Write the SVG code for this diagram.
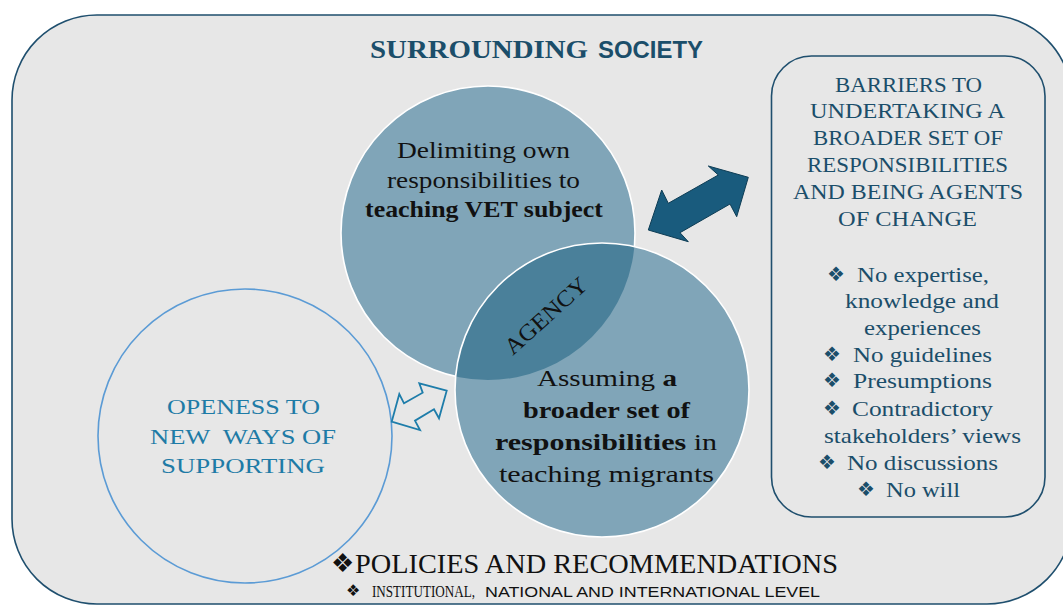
<svg xmlns="http://www.w3.org/2000/svg" width="1063" height="606" viewBox="0 0 1063 606">
  <style>
    .serif { font-family: "Liberation Serif", "Times New Roman", serif; }
    .sans { font-family: "Liberation Sans", Arial, sans-serif; }
    .sym { font-family: "DejaVu Sans", sans-serif; }
    .dark { fill: #1B4E6A; }
    .ink { fill: #111111; }
    .blue { fill: #1E7BA6; }
    .b { font-weight: bold; }
    .venn { fill: #80A5B8; }
    .rim { fill: none; stroke: #FFFFFF; stroke-width: 1.6; }
  </style>
  <defs>
    <clipPath id="clipUpper">
      <circle cx="488" cy="233" r="147"/>
    </clipPath>
  </defs>

  <!-- surrounding society frame -->
  <g id="society">
    <rect x="12" y="15" width="1060" height="589" rx="85" ry="85" fill="#E7E7E7" stroke="#1F4F6E" stroke-width="1.6"/>
    <text class="serif dark b" x="370" y="58" font-size="25" textLength="218" lengthAdjust="spacingAndGlyphs">SURROUNDING</text>
    <text class="sans dark b" x="598" y="58" font-size="23" textLength="105" lengthAdjust="spacingAndGlyphs">SOCIETY</text>
  </g>

  <!-- openness circle -->
  <g id="openness">
    <circle cx="245" cy="436" r="147" fill="none" stroke="#5B9BD5" stroke-width="1.6"/>
    <text class="serif blue" x="167" y="414" font-size="22" textLength="153" lengthAdjust="spacingAndGlyphs">OPENESS TO</text>
    <text class="serif blue" x="150" y="444" font-size="22" textLength="186" lengthAdjust="spacingAndGlyphs" xml:space="preserve">NEW  WAYS OF</text>
    <text class="serif blue" x="161" y="473" font-size="22" textLength="164" lengthAdjust="spacingAndGlyphs">SUPPORTING</text>
  </g>

  <!-- two overlapping responsibility circles -->
  <g id="delimiting">
    <circle class="venn" cx="488" cy="233" r="147"/>
    <circle class="rim" cx="488" cy="233" r="147"/>
  </g>
  <g id="assuming">
    <circle class="venn" cx="602" cy="390" r="147"/>
  </g>
  <g id="agency">
    <circle cx="602" cy="390" r="147" fill="#4A809A" clip-path="url(#clipUpper)"/>
    <circle class="rim" cx="602" cy="390" r="147"/>
    <g transform="translate(546,316) rotate(-42)">
      <text class="serif ink" x="-51.5" y="7.5" font-size="23" textLength="103" lengthAdjust="spacingAndGlyphs">AGENCY</text>
    </g>
  </g>

  <g id="delimiting-label">
    <text class="serif ink" x="397" y="158" font-size="23" textLength="173" lengthAdjust="spacingAndGlyphs">Delimiting own</text>
    <text class="serif ink" x="387" y="188" font-size="23" textLength="193" lengthAdjust="spacingAndGlyphs">responsibilities to</text>
    <text class="serif ink b" x="365" y="217" font-size="23" textLength="238" lengthAdjust="spacingAndGlyphs">teaching VET subject</text>
  </g>
  <g id="assuming-label">
    <text class="serif ink" x="537" y="386" font-size="23" textLength="140" lengthAdjust="spacingAndGlyphs">Assuming <tspan class="b">a</tspan></text>
    <text class="serif ink b" x="523" y="418" font-size="23" textLength="167" lengthAdjust="spacingAndGlyphs">broader set of</text>
    <text class="serif ink" x="495" y="450" font-size="23" textLength="222" lengthAdjust="spacingAndGlyphs"><tspan class="b">responsibilities</tspan> in</text>
    <text class="serif ink" x="499" y="482" font-size="23" textLength="215" lengthAdjust="spacingAndGlyphs">teaching migrants</text>
  </g>

  <!-- barriers box -->
  <g id="barriers">
    <rect x="771.5" y="56" width="273.5" height="461" rx="40" ry="40" fill="#E7E7E7" stroke="#1F4F6E" stroke-width="1.6"/>
    <g class="serif dark" font-size="22">
      <text x="835" y="92" textLength="147" lengthAdjust="spacingAndGlyphs">BARRIERS TO</text>
      <text x="810" y="118" textLength="195" lengthAdjust="spacingAndGlyphs">UNDERTAKING A</text>
      <text x="813" y="145" textLength="190" lengthAdjust="spacingAndGlyphs">BROADER SET OF</text>
      <text x="807" y="172" textLength="201" lengthAdjust="spacingAndGlyphs">RESPONSIBILITIES</text>
      <text x="793" y="199" textLength="230" lengthAdjust="spacingAndGlyphs">AND BEING AGENTS</text>
      <text x="838" y="226" textLength="139" lengthAdjust="spacingAndGlyphs">OF CHANGE</text>

      <text x="857" y="282" textLength="132" lengthAdjust="spacingAndGlyphs">No expertise,</text>
      <text x="845" y="308" textLength="154" lengthAdjust="spacingAndGlyphs">knowledge and</text>
      <text x="864" y="335" textLength="117" lengthAdjust="spacingAndGlyphs">experiences</text>
      <text x="853" y="362" textLength="139" lengthAdjust="spacingAndGlyphs">No guidelines</text>
      <text x="853" y="388" textLength="139" lengthAdjust="spacingAndGlyphs">Presumptions</text>
      <text x="852" y="416" textLength="141" lengthAdjust="spacingAndGlyphs">Contradictory</text>
      <text x="824" y="443" textLength="197" lengthAdjust="spacingAndGlyphs">stakeholders’ views</text>
      <text x="847" y="470" textLength="151" lengthAdjust="spacingAndGlyphs">No discussions</text>
      <text x="886" y="497" textLength="74" lengthAdjust="spacingAndGlyphs">No will</text>
    </g>
    <g class="sym dark" font-size="20">
      <text x="827" y="281">❖</text>
      <text x="823" y="361">❖</text>
      <text x="823" y="387">❖</text>
      <text x="823" y="415">❖</text>
      <text x="818" y="469">❖</text>
      <text x="857" y="496">❖</text>
    </g>
  </g>

  <!-- policies footer -->
  <g id="policies">
    <text class="sym ink" x="331" y="572" font-size="26">❖</text>
    <text class="serif ink" x="355" y="573" font-size="28" textLength="483" lengthAdjust="spacingAndGlyphs">POLICIES AND RECOMMENDATIONS</text>
    <text class="sym ink" x="346" y="596" font-size="16">❖</text>
    <text class="serif ink" x="372" y="597" font-size="16" textLength="103" lengthAdjust="spacingAndGlyphs">INSTITUTIONAL,</text>
    <text class="sans ink" x="485" y="597" font-size="14.5" textLength="335" lengthAdjust="spacingAndGlyphs">NATIONAL AND INTERNATIONAL LEVEL</text>
  </g>

  <!-- double-headed connectors -->
  <g id="connectors">
    <polygon points="648.3,230 661.7,190 668.3,203.3 718.3,175 708.3,166 748.3,177.3 736.7,216.7 730,204 680,232.7 688.3,241.7" fill="#195B7D" stroke="#0E3D55" stroke-width="1"/>
    <polygon points="391.7,421.7 399.3,394 404,403.3 422.7,392.7 419.3,383.3 446.7,390.7 439,418.3 434,409.3 415,420.7 420,430" fill="none" stroke="#1E7DAA" stroke-width="1.8" stroke-linejoin="miter"/>
  </g>
</svg>
